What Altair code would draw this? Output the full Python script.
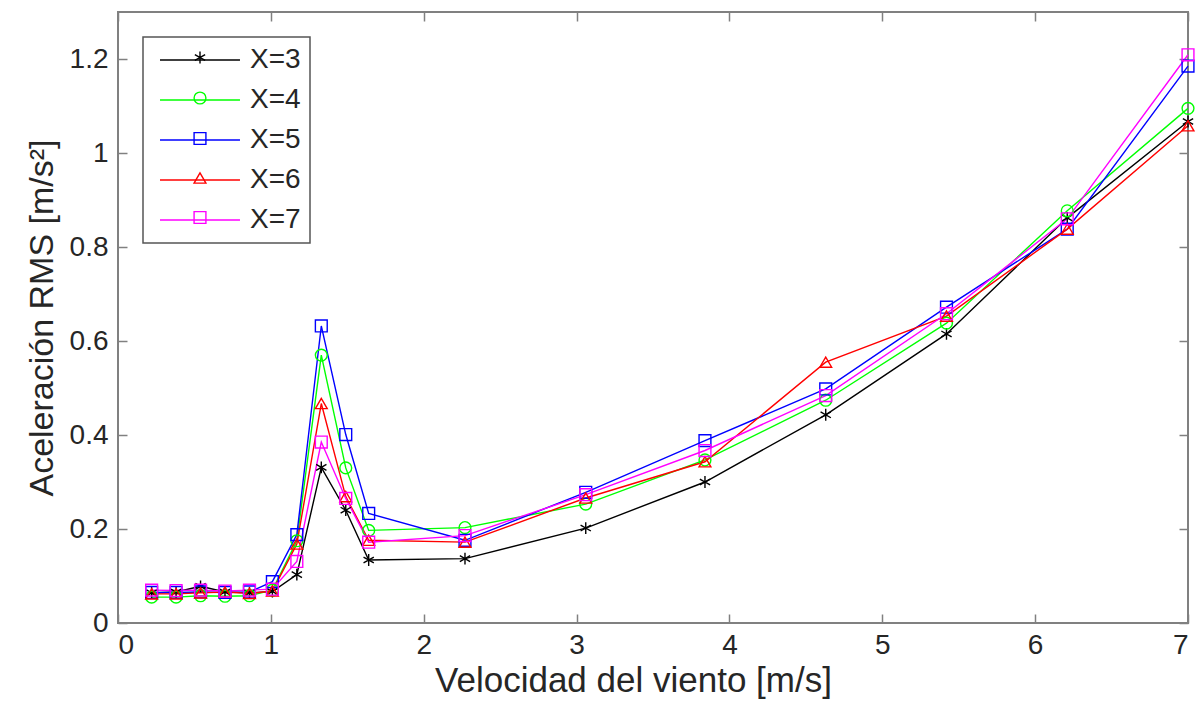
import altair as alt
import pandas as pd

# ---- data ----
speeds = [0.22, 0.38, 0.54, 0.70, 0.86, 1.01, 1.17, 1.33, 1.49, 1.64,
          2.27, 3.06, 3.84, 4.63, 5.42, 6.21, 7.00]
series_names = ["X=3", "X=4", "X=5", "X=6", "X=7"]
acc_x3 = [0.064, 0.066, 0.078, 0.066, 0.064, 0.067, 0.103, 0.331, 0.240, 0.134,
          0.137, 0.202, 0.300, 0.443, 0.615, 0.862, 1.067]
acc_x4 = [0.055, 0.055, 0.058, 0.057, 0.058, 0.070, 0.175, 0.570, 0.330, 0.197,
          0.203, 0.253, 0.347, 0.474, 0.638, 0.877, 1.095]
acc_x5 = [0.065, 0.065, 0.066, 0.065, 0.066, 0.088, 0.188, 0.632, 0.401, 0.233,
          0.176, 0.278, 0.388, 0.498, 0.672, 0.838, 1.185]
acc_x6 = [0.062, 0.062, 0.064, 0.066, 0.063, 0.068, 0.168, 0.467, 0.269, 0.176,
          0.172, 0.266, 0.343, 0.555, 0.653, 0.838, 1.058]
acc_x7 = [0.070, 0.069, 0.070, 0.068, 0.070, 0.072, 0.131, 0.385, 0.265, 0.172,
          0.186, 0.273, 0.367, 0.484, 0.658, 0.860, 1.209]
x_ticks = [0, 1, 2, 3, 4, 5, 6, 7]
y_ticks = [0, 0.2, 0.4, 0.6, 0.8, 1.0, 1.2]

colors = ["#000000", "#00ff00", "#0000ff", "#ff0000", "#ff00ff"]
asterisk = "M0,-1V1M-0.87,-0.5L0.87,0.5M-0.87,0.5L0.87,-0.5"
shapes = [asterisk, "circle", "square", "triangle-up", "square"]
legend_line = "M-1,0H12.33"

rows = []
for name, vals in zip(series_names, [acc_x3, acc_x4, acc_x5, acc_x6, acc_x7]):
    for s, v in zip(speeds, vals):
        rows.append({"speed": s, "acc": v, "serie": name})
df = pd.DataFrame(rows)

FONT = "Liberation Sans"
TXT = "#262626"
FRAME = "#808080"
TICK = 9
LBL = 28

xs = alt.Scale(domain=[0, 7], nice=False, zero=False)
ys = alt.Scale(domain=[0, 1.3], nice=False, zero=False)

base = alt.Chart(df)

lines = base.mark_line(strokeWidth=1.4).encode(
    x=alt.X("speed:Q", scale=xs, axis=alt.Axis(
        orient="bottom", values=x_ticks, grid=False, domain=False, ticks=False,
        labelFont=FONT, labelFontSize=LBL, labelColor=TXT, labelPadding=8,
        title="Velocidad del viento [m/s]", titleFont=FONT, titleFontSize=35,
        titleFontWeight="normal", titleColor=TXT, titlePadding=4, titleX=515)),
    y=alt.Y("acc:Q", scale=ys, axis=alt.Axis(
        orient="left", values=y_ticks, format="~g", grid=False, domain=False, ticks=False,
        labelFont=FONT, labelFontSize=LBL, labelColor=TXT, labelPadding=10,
        title="Aceleración RMS [m/s²]", titleFont=FONT, titleFontSize=34,
        titleFontWeight="normal", titleColor=TXT, titlePadding=10)),
    color=alt.Color("serie:N", scale=alt.Scale(domain=series_names, range=colors),
                    legend=alt.Legend(
                        orient="none", legendX=25, legendY=25, title=None,
                        symbolType=legend_line, symbolSize=144, symbolStrokeWidth=1.4,
                        labelFont=FONT, labelFontSize=LBL, labelColor=TXT, labelOffset=70,
                        padding=9, rowPadding=12, strokeColor="#555555")),
)

pt_legend = alt.Legend(
    orient="none", legendX=66, legendY=29.5, title=None,
    symbolSize=140, symbolStrokeWidth=1.4,
    labelExpr="''", labelFontSize=1, labelOffset=0,
    padding=9, rowPadding=22.5)

points = base.mark_point(filled=False, size=140, strokeWidth=1.4, opacity=1).encode(
    x=alt.X("speed:Q", scale=xs, axis=alt.Axis(
        orient="bottom", offset=-TICK, values=x_ticks, grid=False, domain=False,
        labels=False, ticks=True, tickSize=TICK, tickColor=FRAME, tickWidth=1.5, title=None)),
    y=alt.Y("acc:Q", scale=ys, axis=alt.Axis(
        orient="left", offset=-TICK, values=y_ticks, grid=False, domain=False,
        labels=False, ticks=True, tickSize=TICK, tickColor=FRAME, tickWidth=1.5, title=None)),
    color=alt.Color("serie:N", scale=alt.Scale(domain=series_names, range=colors), legend=pt_legend),
    shape=alt.Shape("serie:N", scale=alt.Scale(domain=series_names, range=shapes), legend=pt_legend),
)

ghost = base.mark_point(opacity=0).encode(
    x=alt.X("speed:Q", scale=xs, axis=alt.Axis(
        orient="top", offset=-TICK, values=x_ticks, grid=False, domain=False,
        labels=False, ticks=True, tickSize=TICK, tickColor=FRAME, tickWidth=1.5, title=None)),
    y=alt.Y("acc:Q", scale=ys, axis=alt.Axis(
        orient="right", offset=-TICK, values=y_ticks, grid=False, domain=False,
        labels=False, ticks=True, tickSize=TICK, tickColor=FRAME, tickWidth=1.5, title=None)),
)

chart = alt.layer(lines, points, ghost).resolve_scale(
    color="independent", shape="independent"
).resolve_axis(x="independent", y="independent").properties(
    width=1070, height=611,
    autosize=alt.AutoSizeParams(type="none"),
    padding={"left": 118, "top": 12, "right": 14, "bottom": 102},
    background="white",
).configure_view(stroke=FRAME, strokeWidth=2).configure_legend(strokeWidth=1.5)

chart.save("out.html", embed_options={"renderer": "svg", "actions": False})
